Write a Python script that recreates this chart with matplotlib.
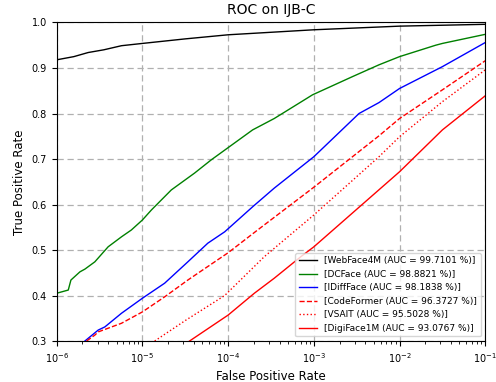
import numpy as np
import matplotlib
matplotlib.use("Agg")
import matplotlib.pyplot as plt
from matplotlib.ticker import LogLocator, NullFormatter

# log10(FPR) nodes and TPR values
webface_logfpr = [-6.0, -5.8, -5.633, -5.45, -5.244, -5.0, -4.5, -4.0, -3.0, -2.0, -1.0]
webface_tpr = [0.918, 0.925, 0.934, 0.940, 0.949, 0.954, 0.964, 0.973, 0.984, 0.992, 0.996]

dcface_logfpr = [-6.0, -5.865, -5.834, -5.729, -5.671, -5.555, -5.40, -5.244, -5.129, -5.0,
                 -4.895, -4.663, -4.392, -4.198, -4.0, -3.714, -3.462, -3.11, -3.016, -2.55,
                 -2.24, -2.0, -1.58, -1.5, -1.0]
dcface_tpr = [0.405, 0.412, 0.434, 0.452, 0.458, 0.474, 0.507, 0.529, 0.544, 0.566,
              0.588, 0.632, 0.669, 0.698, 0.725, 0.764, 0.789, 0.830, 0.841, 0.881,
              0.907, 0.925, 0.950, 0.954, 0.974]

idiff_logfpr = [-5.671, -5.516, -5.438, -5.244, -5.0, -4.741, -4.47, -4.237, -4.04, -3.714,
                -3.462, -3.0, -2.473, -2.24, -2.0, -1.5, -1.0]
idiff_tpr = [0.30, 0.324, 0.331, 0.361, 0.394, 0.427, 0.474, 0.515, 0.540, 0.595,
             0.636, 0.705, 0.800, 0.824, 0.855, 0.903, 0.956]

codeformer_logfpr = [-5.651, -5.555, -5.516, -5.244, -5.0, -4.741, -4.47, -4.0, -3.656, -3.0,
                     -2.24, -2.0, -1.5, -1.0]
codeformer_tpr = [0.30, 0.313, 0.320, 0.339, 0.364, 0.397, 0.434, 0.494, 0.544, 0.638,
                  0.751, 0.789, 0.852, 0.916]

vsait_logfpr = [-4.857, -4.5, -4.04, -3.58, -3.0, -2.24, -2.0, -1.5, -1.0]
vsait_tpr = [0.30, 0.345, 0.400, 0.485, 0.577, 0.705, 0.749, 0.826, 0.896]

digiface_logfpr = [-4.45, -4.0, -3.694, -3.462, -3.154, -3.0, -2.0, -1.5, -1.0]
digiface_tpr = [0.30, 0.357, 0.405, 0.438, 0.485, 0.507, 0.672, 0.764, 0.839]

labels = ["[WebFace4M (AUC = 99.7101 %)]",
          "[DCFace (AUC = 98.8821 %)]",
          "[IDiffFace (AUC = 98.1838 %)]",
          "[CodeFormer (AUC = 96.3727 %)]",
          "[VSAIT (AUC = 95.5028 %)]",
          "[DigiFace1M (AUC = 93.0767 %)]"]

series = [
    (webface_logfpr, webface_tpr, "black", "-"),
    (dcface_logfpr, dcface_tpr, "green", "-"),
    (idiff_logfpr, idiff_tpr, "blue", "-"),
    (codeformer_logfpr, codeformer_tpr, "red", "--"),
    (vsait_logfpr, vsait_tpr, "red", ":"),
    (digiface_logfpr, digiface_tpr, "red", "-"),
]

fig = plt.figure(figsize=(4.96, 3.82), dpi=100)
ax = fig.add_axes([0.1143, 0.1073, 0.8641, 0.8338])

for (lx, ty, c, ls), lab in zip(series, labels):
    ax.plot(10.0 ** np.array(lx), ty, color=c, linestyle=ls, linewidth=1.0, label=lab)

ax.set_xscale("log")
ax.set_xlim(1e-6, 1e-1)
ax.set_ylim(0.3, 1.0)
ax.xaxis.set_minor_locator(LogLocator(base=10, subs=np.arange(2, 10), numticks=20))
ax.xaxis.set_minor_formatter(NullFormatter())
ax.grid(True, which="major", linestyle=(0, (5, 3)), color="#b0b0b0", linewidth=0.9)
ax.tick_params(axis="both", labelsize=7)
ax.tick_params(axis="x", which="minor", length=2.5)
ax.set_xlabel("False Positive Rate", fontsize=8.5)
ax.set_ylabel("True Positive Rate", fontsize=8.5)
ax.set_title("ROC on IJB-C", fontsize=10)
ax.legend(loc="lower right", fontsize=6.5)

fig.savefig("out.png", dpi=100)
